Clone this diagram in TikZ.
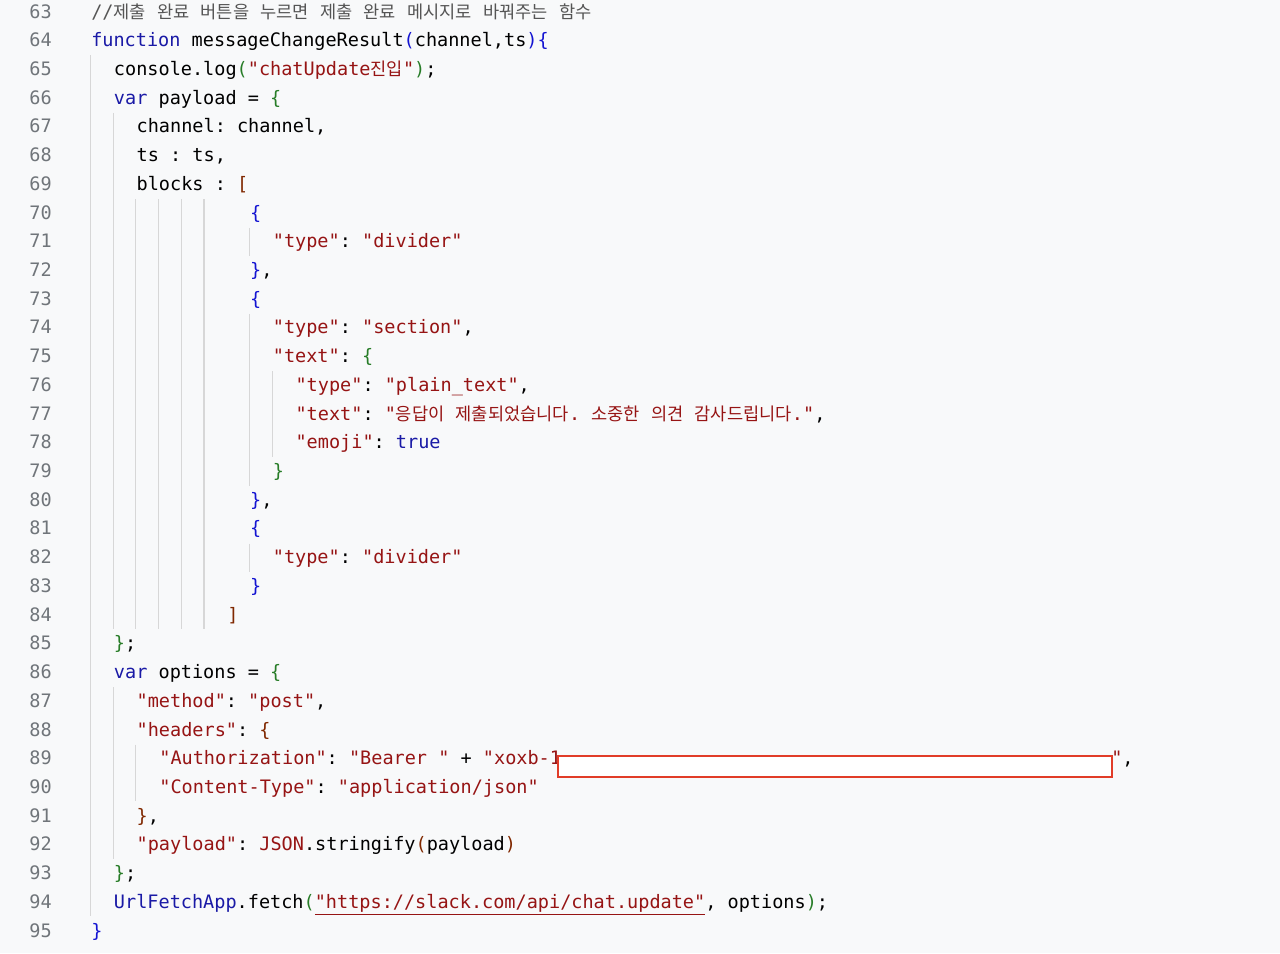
\documentclass[tikz,border=0pt]{standalone}
\usepackage{fontspec}
\setmonofont{DejaVu Sans Mono}
\newfontfamily\krf{Noto Sans CJK KR}[Scale=0.95]
\definecolor{bgc}{RGB}{248,249,250}
\definecolor{kwc}{RGB}{26,26,166}
\definecolor{strc}{RGB}{150,20,20}
\definecolor{brc}{RGB}{128,40,0}
\definecolor{grc}{RGB}{40,125,40}
\definecolor{blc}{RGB}{20,20,210}
\definecolor{cmc}{RGB}{85,85,85}
\definecolor{lnc}{RGB}{112,117,122}
\definecolor{guc}{RGB}{215,215,215}
\definecolor{redact}{RGB}{225,60,40}
\newcommand\Kw[1]{\textcolor{kwc}{#1}}
\newcommand\Sx[1]{\textcolor{strc}{#1}}
\newcommand\Bb[1]{\textcolor{blc}{#1}}
\newcommand\Gb[1]{\textcolor{grc}{#1}}
\newcommand\Rb[1]{\textcolor{brc}{#1}}
\newcommand\Kr[1]{{\krf #1}}
\begin{document}
\begin{tikzpicture}[x=0.75pt,y=-0.75pt,
  code/.style={anchor=base west,inner sep=0pt,font=\ttfamily\fontsize{13.9}{16}\selectfont},
  lnum/.style={anchor=base east,inner sep=0pt,text=lnc,font=\ttfamily\fontsize{13.9}{16}\selectfont},
  guide/.style={draw=guc,line width=0.8pt}]
\fill[bgc] (0,0) rectangle (1280,953);
\useasboundingbox (0,0) rectangle (1280,953);
\def\LX#1{91+22.7*#1}
\def\LY#1{12+28.72*(#1-63)+6}
\foreach \n in {63,...,95}{\node[lnum] (n\n) at (52,{\LY{\n}}) {\n};}
% guides
\foreach \k/\a/\b in {0/65/94, 1/67/84, 2/70/84, 3/70/84, 4/70/84, 5/70/84, 7/71/71, 7/74/79, 7/82/82, 8/76/78, 1/87/92, 2/89/90}{
  \draw[guide] ({\LX{\k}-0.5},{12+28.72*(\a-63)-14}) -- ({\LX{\k}-0.5},{12+28.72*(\b-63)+14});}
\newcommand\Ln[3]{\node[code] (l#1) at ({\LX{#2}},{\LY{#1}}) {#3};}
\Ln{63}{0}{\textcolor{cmc}{//\Kr{제출} \Kr{완료} \Kr{버튼을} \Kr{누르면} \Kr{제출} \Kr{완료} \Kr{메시지로} \Kr{바꿔주는} \Kr{함수}}}
\Ln{64}{0}{\Kw{function} messageChangeResult\Bb{(}channel,ts\Bb{)}\Bb{\{}}
\Ln{65}{1}{console.log\Gb{(}\Sx{"chatUpdate\Kr{진입}"}\Gb{)};}
\Ln{66}{1}{\Kw{var} payload = \Gb{\{}}
\Ln{67}{2}{channel: channel,}
\Ln{68}{2}{ts : ts,}
\Ln{69}{2}{blocks : \Rb{[}}
\Ln{70}{7}{\Bb{\{}}
\Ln{71}{8}{\Sx{"type"}: \Sx{"divider"}}
\Ln{72}{7}{\Bb{\}},}
\Ln{73}{7}{\Bb{\{}}
\Ln{74}{8}{\Sx{"type"}: \Sx{"section"},}
\Ln{75}{8}{\Sx{"text"}: \Gb{\{}}
\Ln{76}{9}{\Sx{"type"}: \Sx{"plain\_text"},}
\Ln{77}{9}{\Sx{"text"}: \Sx{"\Kr{응답이} \Kr{제출되었습니다}. \Kr{소중한} \Kr{의견} \Kr{감사드립니다}."},}
\Ln{78}{9}{\Sx{"emoji"}: \Kw{true}}
\Ln{79}{8}{\Gb{\}}}
\Ln{80}{7}{\Bb{\}},}
\Ln{81}{7}{\Bb{\{}}
\Ln{82}{8}{\Sx{"type"}: \Sx{"divider"}}
\Ln{83}{7}{\Bb{\}}}
\Ln{84}{6}{\Rb{]}}
\Ln{85}{1}{\Gb{\}};}
\Ln{86}{1}{\Kw{var} options = \Gb{\{}}
\Ln{87}{2}{\Sx{"method"}: \Sx{"post"},}
\Ln{88}{2}{\Sx{"headers"}: \Rb{\{}}
\Ln{89}{3}{\Sx{"Authorization"}: \Sx{"Bearer "} + \Sx{"xoxb-1}}
\node[code] (l89b) at (1111,{\LY{89}}) {\Sx{"},};
\node[draw=redact,fill=white,line width=1.2pt,inner sep=0pt,minimum width=554*0.75pt,minimum height=21*0.75pt,anchor=north west] (redbox) at (557,755) {};
\Ln{90}{3}{\Sx{"Content-Type"}: \Sx{"application/json"}}
\Ln{91}{2}{\Rb{\}},}
\Ln{92}{2}{\Sx{"payload"}: \Sx{JSON}.stringify\Rb{(}payload\Rb{)}}
\Ln{93}{1}{\Gb{\}};}
\Ln{94}{1}{\Kw{UrlFetchApp}.fetch\Gb{(}\Sx{\underline{"https://slack.com/api/chat.update"}}, options\Gb{)};}
\Ln{95}{0}{\Bb{\}}}
\end{tikzpicture}
\end{document}
